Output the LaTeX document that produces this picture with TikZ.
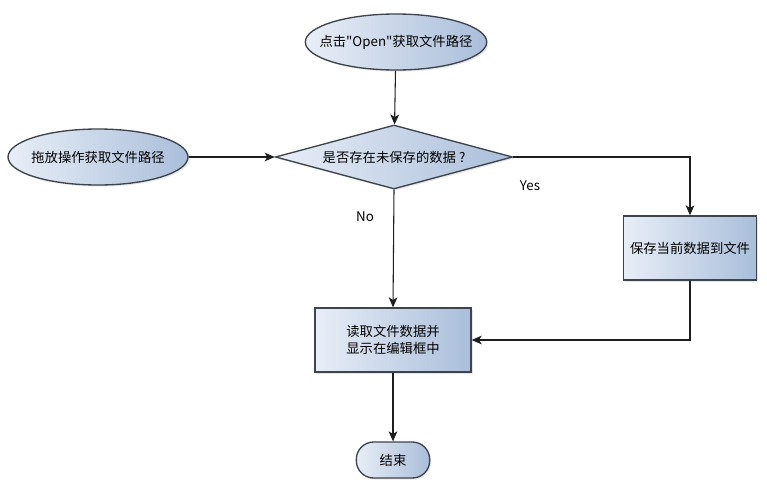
\documentclass[tikz,border=0pt]{standalone}
\usepackage{fontspec}
\setmainfont{Noto Sans CJK SC}
\usepackage{tikz}
\usetikzlibrary{arrows.meta}
\usetikzlibrary{shapes.geometric,shadows}
\definecolor{shadelite}{RGB}{232,238,247}
\definecolor{shadedark}{RGB}{170,190,218}
\definecolor{edgegray}{RGB}{62,68,76}
\definecolor{linegray}{RGB}{30,30,30}
\newcommand{\plainquote}{\XeTeXglyph\XeTeXcharglyph"22\relax}

\begin{document}
\begin{tikzpicture}[x=0.75pt,y=-0.75pt,font=\fontsize{10}{13}\selectfont,
    shapebase/.style={draw=edgegray,line width=1pt,left color=shadelite,
      right color=shadedark,inner sep=0pt,align=center,
      drop shadow={opacity=0.2,shadow xshift=1.2pt,shadow yshift=-1.2pt}},
    startoval/.style={shapebase,ellipse,inner xsep=-20pt,minimum width=136pt,
      minimum height=42pt},
    askdiamond/.style={shapebase,diamond,aspect=3.7,minimum width=178pt,
      minimum height=48pt},
    workbox/.style={shapebase,rectangle,minimum height=48pt},
    stopbox/.style={shapebase,rectangle,rounded corners=13pt,
      minimum width=55pt,minimum height=27pt},
    flow/.style={draw=linegray,line width=0.8pt,
      -{Stealth[length=7.5pt,width=6.5pt,inset=2pt]}}]
    \useasboundingbox (0,0) rectangle (767,486);
    % entry points
    \node[startoval] (openclick) at (396,42)
      {点击\plainquote Open\plainquote 获取文件路径};
    \node[startoval,minimum width=135pt] (dragdrop) at (98,157) {拖放操作获取文件路径};
    % decision
    \node[askdiamond] (unsaved) at (394,157) {是否存在未保存的数据 ?};
    % actions
    \node[workbox,minimum width=100pt] (savefile) at (690,248) {保存当前数据到文件};
    \node[workbox,minimum width=117pt] (readfile) at (393,340)
      {读取文件数据并\\显示在编辑框中};
    \node[stopbox] (finish) at (393,460) {结束};
    % branch labels
    \node (yeslbl) at (530,186) {Yes};
    \node (nolbl) at (365,217) {No};
    % connectors
    \draw[flow] (openclick) -- (unsaved);
    \draw[flow] (dragdrop) -- (unsaved.west);
    \draw[flow] (unsaved.east) -| (savefile.north);
    \draw[flow] (unsaved.south) -- (readfile.north);
    \draw[flow] (savefile.south) |- (readfile.east);
    \draw[flow] (readfile) -- (finish);
  \end{tikzpicture}
\end{document}
